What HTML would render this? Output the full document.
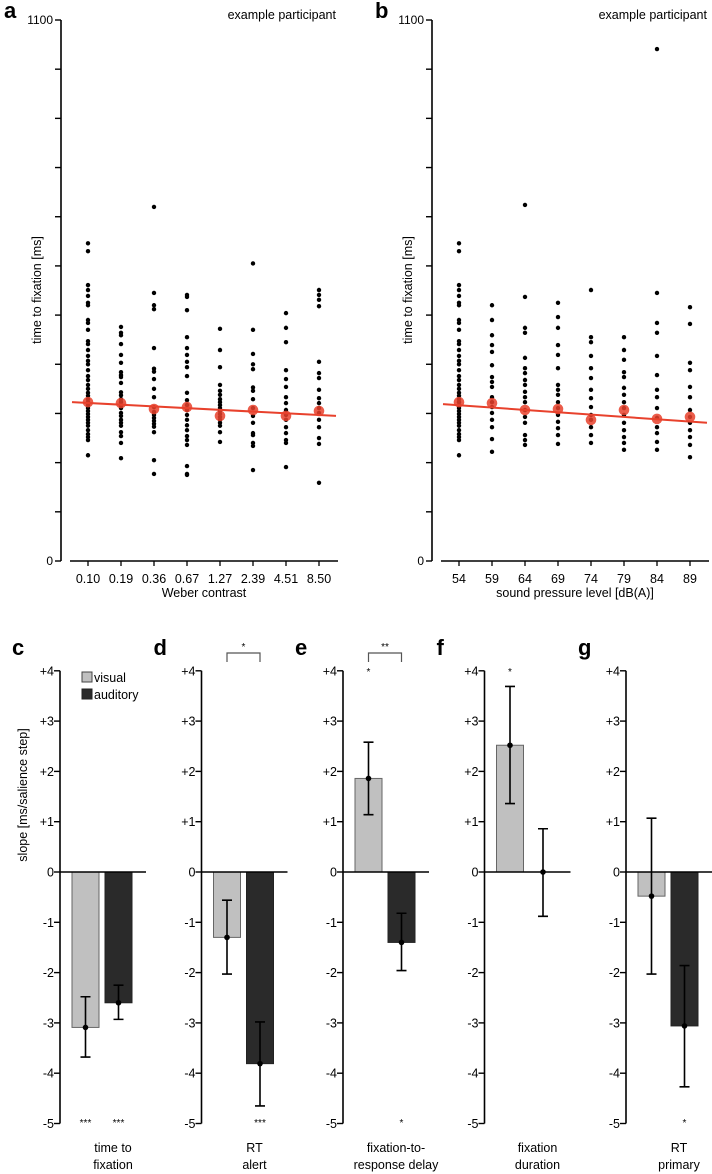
<!DOCTYPE html>
<html><head><meta charset="utf-8">
<style>
html,body{margin:0;padding:0;background:#fff;}
svg{display:block;font-family:"Liberation Sans",sans-serif;}
</style></head>
<body>
<svg id="fig" width="712" height="1174" viewBox="0 0 712 1174" xmlns="http://www.w3.org/2000/svg"></svg>
<script>
// ---- Scatter data (ms) ----
const contrastLabels = ["0.10","0.19","0.36","0.67","1.27","2.39","4.51","8.50"];
const splLabels = ["54","59","64","69","74","79","84","89"];
const yTicksTop = [0,100,200,300,400,500,600,700,800,900,1000,1100];
const visPoints = [
 [646,630,561,551,539,525,520,490,484,470,447,441,429,417,407,400,388,376,368,358,350,342,336,329,323,317,311,305,299,293,287,281,275,266,258,252,246,215],
 [476,464,459,441,419,403,384,378,374,362,343,337,329,323,315,311,301,295,287,281,275,262,254,240,209],
 [720,545,520,512,433,391,385,370,350,333,313,303,297,291,285,279,273,262,205,177],
 [541,537,510,455,433,419,405,394,376,342,327,317,307,297,287,276,266,254,246,236,193,177,175],
 [472,429,394,358,346,338,329,323,317,311,305,299,293,287,281,275,262,242],
 [605,470,421,400,390,353,346,329,311,295,281,260,256,240,234,185],
 [504,474,445,388,370,354,333,321,307,297,287,272,260,246,240,191],
 [551,541,531,518,405,382,372,348,331,321,311,301,287,272,250,238,159]
];
const visMeans = [323,321,309,313,295,307,295,305];
const visFit = [323,295];
const audPoints = [
 [646,630,561,551,539,525,520,490,484,470,447,441,429,417,407,400,388,376,368,358,350,342,336,329,323,317,311,305,299,293,287,281,275,266,258,252,246,215],
 [520,490,459,439,425,398,374,364,354,333,323,313,301,287,272,248,222],
 [724,537,474,464,413,392,382,368,358,344,333,323,307,293,281,256,246,236],
 [525,496,474,439,419,392,358,348,338,323,311,297,283,270,256,238],
 [551,455,445,417,392,372,348,331,313,297,287,272,256,240],
 [455,429,409,384,374,352,338,323,311,297,281,266,252,240,226],
 [1041,545,484,464,417,378,348,333,311,291,272,260,242,226],
 [516,482,403,388,354,333,307,293,281,266,252,236,211]
];
const audMeans = [323,321,307,309,287,307,289,293];
const audFit = [319,281];

// ---- Bar data (slope) ----
const barPanels = ["c","d","e","f","g"];
const barCategories = [["time to","fixation"],["RT","alert"],["fixation-to-","response delay"],["fixation","duration"],["RT","primary"]];
const visualSlope = [-3.09,-1.30,1.86,2.52,-0.48];
const visualErrHi = [-2.48,-0.56,2.58,3.69,1.07];
const visualErrLo = [-3.68,-2.03,1.14,1.36,-2.03];
const auditorySlope = [-2.60,-3.81,-1.40,0,-3.06];
const auditoryErrHi = [-2.25,-2.98,-0.82,0.86,-1.86];
const auditoryErrLo = [-2.93,-4.65,-1.96,-0.88,-4.27];
const sigBottomVis = ["***","","","",""];
const sigBottomAud = ["***","***","*","","*"];
const sigTopVis = ["","","*","*",""];
const sigBracket = ["","*","**","",""];
const slopeTicks = [4,3,2,1,0,-1,-2,-3,-4,-5];

const NS="http://www.w3.org/2000/svg";
const svg=document.getElementById('fig');
function el(tag,attrs,parent){const e=document.createElementNS(NS,tag);for(const k in attrs)e.setAttribute(k,attrs[k]);(parent||svg).appendChild(e);return e;}
function txt(s,attrs,parent){const e=el('text',attrs,parent);e.textContent=s;return e;}

// ---- Scatter panels ----
function scatter(ax, cats, pts, means, fit, letter, xtitle, id){
  const y0=561,y1=20;
  const Y=v=>y0-(v/1100)*(y0-y1);
  const X=i=>ax+27+i*33;
  const g=el('g',{});
  
  
  const l=txt(letter,{x:ax-57,y:18,'font-size':22,'font-weight':'bold'},g);
  
  
  const ya=el('line',{x1:ax,y1:y1,x2:ax,y2:y0,stroke:'#000','stroke-width':1.6},g);
  
  
  yTicksTop.forEach(t=>{
    el('line',{x1:ax-6,x2:ax,y1:Y(t),y2:Y(t),stroke:'#000','stroke-width':1.4},g);
  });
  const t1=txt('1100',{x:ax-8,y:Y(1100)+4,'font-size':12,'text-anchor':'end'},g);
  
  const t0=txt('0',{x:ax-8,y:Y(0)+4,'font-size':12,'text-anchor':'end'},g);
  
  const xa=el('line',{x1:ax+9,x2:ax+277,y1:y0,y2:y0,stroke:'#000','stroke-width':1.6},g);
  
  
  cats.forEach((c,i)=>{
    el('line',{x1:X(i),x2:X(i),y1:y0,y2:y0+5,stroke:'#000','stroke-width':1.3},g);
    const t=txt(c,{x:X(i),y:y0+22,'font-size':12.5,'text-anchor':'middle'},g);
    
    
  });
  const xt=txt(xtitle,{x:ax+143,y:y0+36,'font-size':12.5,'text-anchor':'middle'},g);
  
  const yt=txt('time to fixation [ms]',{x:0,y:0,'font-size':12.5,'text-anchor':'middle',transform:`translate(${ax-20},290) rotate(-90)`},g);
  
  const ep=txt('example participant',{x:ax+275,y:19,'font-size':12.5,'text-anchor':'end'},g);
  
  pts.forEach((col,i)=>col.forEach(v=>{
    const d=el('circle',{cx:X(i),cy:Y(v),r:2.2,fill:'#000'},g);
    
    
  }));
  means.forEach((m,i)=>{
    const c=el('circle',{cx:X(i),cy:Y(m),r:5.3,fill:'#e8412c','fill-opacity':0.85},g);
    
    
  });
  const xs=ax+11,xe=ax+275;
  const fy=v=>v; 
  const fl=el('line',{x1:xs,y1:Y(fit[0]),x2:xe,y2:Y(fit[1]),stroke:'#e8412c','stroke-width':2},g);
  
  
}
scatter(61,contrastLabels,visPoints,visMeans,visFit,'a','Weber contrast','a');
scatter(432,splLabels,audPoints,audMeans,audFit,'b','sound pressure level [dB(A)]','b');

// ---- Bar panels ----
const zeroY=872, unit=50.3;
const BY=v=>zeroY-v*unit;
barPanels.forEach((p,k)=>{
  const ax=60+k*141.5;
  const g=el('g',{});
  
  
  const l=txt(p,{x:ax-48,y:655,'font-size':22,'font-weight':'bold'},g);
  
  
  const ya=el('line',{x1:ax,x2:ax,y1:BY(4),y2:BY(-5),stroke:'#000','stroke-width':1.6},g);
  
  
  slopeTicks.forEach(t=>{
    el('line',{x1:ax-6,x2:ax,y1:BY(t),y2:BY(t),stroke:'#000','stroke-width':1.4},g);
    const s=t>0?'+'+t:String(t);
    const tl=txt(s,{x:ax-6,y:BY(t)+4.5,'font-size':12.5,'text-anchor':'end'},g);
    
    
  });
  const vx=ax+12, axx=ax+45, bw=27;
  const bars=[[vx,visualSlope[k],visualErrHi[k],visualErrLo[k],'#c0c0c0','#666','visual'],[axx,auditorySlope[k],auditoryErrHi[k],auditoryErrLo[k],'#2a2a2a','#222','auditory']];
  bars.forEach(([x,v,hi,lo,fill,stroke,name])=>{
    if(v!==0){
      const r=el('rect',{x:x,y:Math.min(BY(v),zeroY),width:bw,height:Math.abs(BY(v)-zeroY),fill:fill,stroke:stroke,'stroke-width':1},g);
      
      
    }
  });
  const zl=el('line',{x1:ax,x2:ax+86,y1:zeroY,y2:zeroY,stroke:'#000','stroke-width':1.5},g);
  
  
  bars.forEach(([x,v,hi,lo,fill,stroke,name])=>{
    const cx=x+bw/2;
    const eb=el('path',{d:`M${cx},${BY(hi)}V${BY(lo)}M${cx-5},${BY(hi)}H${cx+5}M${cx-5},${BY(lo)}H${cx+5}`,stroke:'#000','stroke-width':1.6,fill:'none'},g);
    
    
    const d=el('circle',{cx:cx,cy:BY(v),r:2.8,fill:'#000'},g);
    
    
  });
  const vcx=vx+bw/2, acx=axx+bw/2;
  if(sigBottomVis[k]){const s=txt(sigBottomVis[k],{x:vcx,y:1126,'font-size':10,'text-anchor':'middle'},g);}
  if(sigBottomAud[k]){const s=txt(sigBottomAud[k],{x:acx,y:1126,'font-size':10,'text-anchor':'middle'},g);}
  if(sigTopVis[k]){const s=txt(sigTopVis[k],{x:vcx,y:675,'font-size':10,'text-anchor':'middle'},g);}
  if(sigBracket[k]){
    const b=el('path',{d:`M${vcx},662V653H${acx}V662`,stroke:'#555','stroke-width':1.2,fill:'none'},g);
    
    
    const s=txt(sigBracket[k],{x:(vcx+acx)/2,y:650,'font-size':10,'text-anchor':'middle'},g);
    
    
  }
  const cl=txt('',{x:ax+53,y:1152,'font-size':12.5,'text-anchor':'middle'},g);
  
  
  barCategories[k].forEach((line,j)=>{const ts=el('tspan',{x:ax+53,dy:j?17:0},cl);ts.textContent=line;});
});
// y title and legend
const yt=txt('slope [ms/salience step]',{x:0,y:0,'font-size':12.5,'text-anchor':'middle',transform:'translate(27,795) rotate(-90)'});


const lg=el('g',{});


const r1=el('rect',{x:82,y:672,width:10,height:10,fill:'#c0c0c0',stroke:'#444','stroke-width':1},lg);

const l1=txt('visual',{x:94,y:682,'font-size':12.5},lg);

const r2=el('rect',{x:82,y:689,width:10,height:10,fill:'#2a2a2a',stroke:'#222','stroke-width':1},lg);

const l2=txt('auditory',{x:94,y:699,'font-size':12.5},lg);

</script>
</body></html>
